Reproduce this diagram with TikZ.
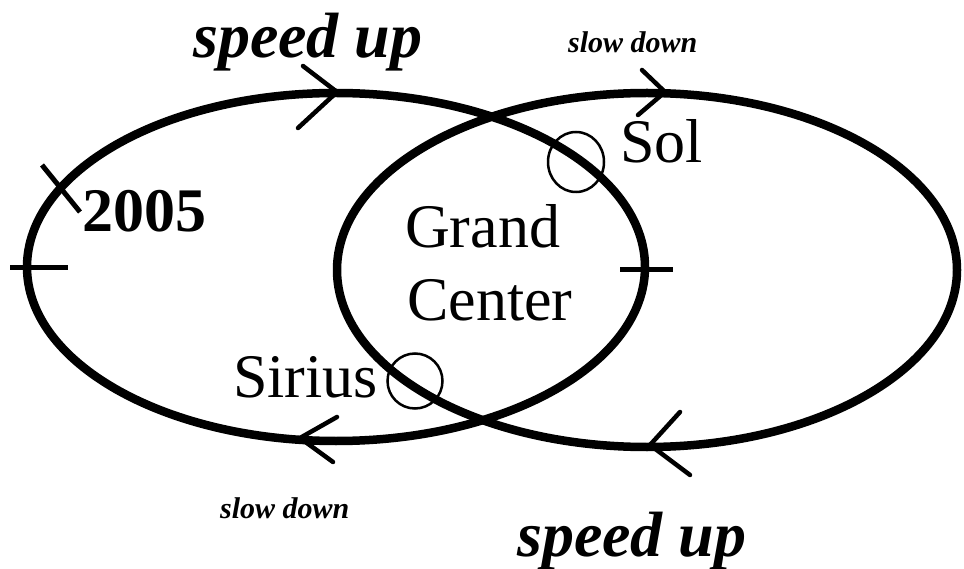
\documentclass[tikz,border=0pt]{standalone}
\usepackage{fontspec}
\setmainfont{Liberation Serif}
\begin{document}
\begin{tikzpicture}[x=1pt,y=-1pt,
  orbit/.style={line width=8.5pt},
  tick/.style={line width=5pt},
  chev/.style={line width=4.5pt,line cap=round,line join=miter},
  star/.style={line width=2.5pt},
  big/.style={font=\fontsize{62}{72}\selectfont, inner sep=0pt, anchor=base west},
  bigbold/.style={font=\fontsize{62}{72}\selectfont\bfseries, inner sep=0pt, anchor=base west},
  fast/.style={font=\fontsize{64}{72}\selectfont\bfseries\itshape, inner sep=0pt, anchor=base west},
  slow/.style={font=\fontsize{30}{36}\selectfont\bfseries\itshape, inner sep=0pt, anchor=base west}]
\useasboundingbox (0,0) rectangle (964,569);
% orbits
\draw[orbit] (336,267) ellipse [x radius=309pt, y radius=174pt];
\draw[orbit] (647,270) ellipse [x radius=310pt, y radius=177pt];
% ticks
\draw[tick] (10,268) -- (68,268);
\draw[tick] (620,270) -- (673,270);
\draw[tick] (42,165) -- (80,212);
% chevrons
\draw[chev] (303,66) -- (337,92) -- (298,128);
\draw[chev] (642,70) -- (665,92) -- (638,115);
\draw[chev] (337,417) -- (300,438) -- (333,462);
\draw[chev] (680,412) -- (650,445) -- (690,475);
% stars
\draw[star] (576,162) ellipse [x radius=28pt, y radius=30pt];
\draw[star] (415,381) circle [radius=27.5pt];
% labels
\node[fast] (su1) at (193,58) {speed up};
\node[fast] (su2) at (517,556) {speed up};
\node[slow] (sd1) at (568,53) {slow down};
\node[slow] (sd2) at (220,518) {slow down};
\node[bigbold] (yr) at (82,232) {2005};
\node[big] (sol) at (620,163) {Sol};
\node[big] (sirius) at (233,397) {Sirius};
\node[big] (grand) at (405,248) {Grand};
\node[big] (center) at (407,320) {Center};
\end{tikzpicture}
\end{document}
